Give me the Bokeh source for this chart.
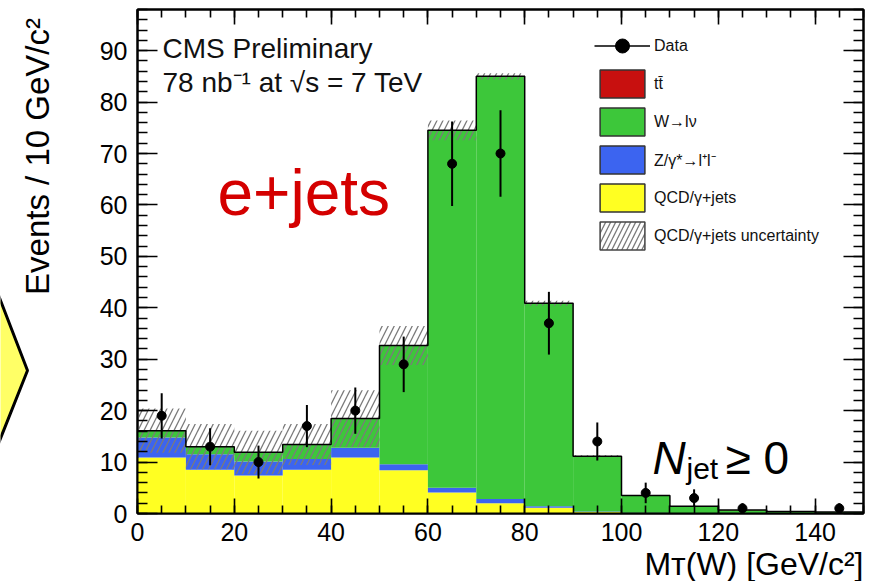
import numpy as np
from bokeh.plotting import figure
from bokeh.layouts import row
from bokeh.models import (Range1d, LinearAxis, Legend, LegendItem, Label, Title,
                          ColumnDataSource, SingleIntervalTicker, CustomJSTickFormatter)
from bokeh.embed import file_html
from bokeh.resources import INLINE

# ---------------- data ----------------
bin_lo = [0, 10, 20, 30, 40, 50, 60, 70, 80, 90, 100, 110, 120, 130, 140]
BIN_W = 10
qcd   = [10.9, 8.5, 7.4, 8.5, 10.9, 8.4, 4.1, 2.0, 1.1, 0.3, 0.1, 0.1, 0.05, 0.0, 0.0]
zll   = [3.9, 3.0, 2.7, 2.1, 1.9, 1.2, 0.9, 0.8, 0.3, 0.1, 0.05, 0.0, 0.0, 0.0, 0.0]
wlv   = [1.3, 1.5, 1.8, 2.8, 5.6, 23.0, 69.4, 82.1, 39.4, 10.7, 3.3, 1.3, 0.6, 0.4, 0.3]
ttbar = [0.0, 0.0, 0.0, 0.02, 0.05, 0.08, 0.1, 0.1, 0.08, 0.05, 0.04, 0.02, 0.02, 0.01, 0.01]
qcd_unc = [4.3, 4.4, 4.2, 4.0, 5.5, 3.8, 1.9, 0.6, 0.5, 0.2, 0.1, 0.05, 0.0, 0.0, 0.0]
data     = [19, 13, 10, 17, 20, 29, 68, 70, 37, 14, 4, 3, 1, 0, 1]
data_err = [4.4, 3.6, 3.2, 4.1, 4.5, 5.4, 8.2, 8.4, 6.1, 3.7, 2.0, 1.7, 1.0, 0.0, 1.0]

legend_labels = ["Data", "tt\u0304", "W\u2192l\u03bd",
                 "Z/\u03b3*\u2192l\u207al\u207b", "QCD/\u03b3+jets",
                 "QCD/\u03b3+jets uncertainty"]
x_title = "M\u1d1b(W) [GeV/c\u00b2]"
y_title = "Events / 10 GeV/c\u00b2"

# decorative slide arrow at the far left (outline in page pixels measured upward)
arrow_x = [-10, 27, -10]
arrow_y = [314, 218, 125]

FONT = "Liberation Sans"
C_YEL, C_BLU, C_GRN, C_RED = "#ffff22", "#3c64f0", "#3dc73a", "#c8100f"
SIDE_W, FIG_H = 55, 588
FRAME_TOP, FRAME_H = 9, 504
FRAME_BOT = FIG_H - FRAME_TOP - FRAME_H

# ---------------- derived stacking ----------------
lo = np.array(bin_lo, float)
hi = lo + BIN_W
mid = lo + BIN_W / 2
y_q = np.array(qcd)
y_z = y_q + np.array(zll)
y_w = y_z + np.array(wlv)
y_t = y_w + np.array(ttbar)
unc = np.array(qcd_unc)
d = np.array(data, float)
de = np.array(data_err)
m = d > 0

# ---------------- left side panel: arrow + y title ----------------
side = figure(frame_width=SIDE_W, frame_height=FRAME_H, output_backend="svg", toolbar_location=None,
              x_range=Range1d(0, SIDE_W), y_range=Range1d(FRAME_BOT, FIG_H - FRAME_TOP),
              x_axis_location=None, y_axis_location=None,
              min_border_left=0, min_border_right=0, min_border_top=FRAME_TOP,
              min_border_bottom=FRAME_BOT)
side.outline_line_color = None
side.xgrid.visible = False
side.ygrid.visible = False
side.patch(x=arrow_x, y=arrow_y, fill_color="#ffff66", line_color="black", line_width=3)
side.add_layout(Label(x=37, y=FIG_H - 156, text=y_title, angle=np.pi / 2,
                      text_font=FONT, text_font_size="33px", text_color="black",
                      text_align="center", text_baseline="middle"))

# ---------------- main plot ----------------
p = figure(frame_width=726, frame_height=FRAME_H, output_backend="svg", toolbar_location=None,
           x_range=Range1d(0, 150), y_range=Range1d(0, 98),
           min_border_left=137 - SIDE_W, min_border_top=FRAME_TOP, min_border_right=8,
           min_border_bottom=10)
p.background_fill_color = "white"
p.border_fill_color = "white"
p.outline_line_color = "black"
p.outline_line_width = 2
p.xgrid.visible = False
p.ygrid.visible = False

src = ColumnDataSource(dict(lo=lo, hi=hi, mid=mid, q=y_q, z=y_z, w=y_w, t=y_t,
                            ulo=y_t - unc, uhi=y_t + unc))
p.quad(left="lo", right="hi", bottom=0, top="q", source=src, fill_color=C_YEL, line_color=None)
p.quad(left="lo", right="hi", bottom="q", top="z", source=src, fill_color=C_BLU, line_color=None)
p.quad(left="lo", right="hi", bottom="z", top="w", source=src, fill_color=C_GRN, line_color=None)
p.quad(left="lo", right="hi", bottom="w", top="t", source=src, fill_color=C_RED, line_color=None)
p.quad(left="lo", right="hi", bottom="ulo", top="uhi", source=src, fill_color=None,
       line_color=None, hatch_pattern="/", hatch_color="#7a7a7a",
       hatch_weight=1.3, hatch_scale=12)
edges = np.append(lo, hi[-1])
p.step(x=edges, y=np.append(y_t, y_t[-1]), mode="after", line_color="black", line_width=1.5)

dsrc = ColumnDataSource(dict(x=mid[m], y=d[m], ylo=(d - de)[m], yhi=(d + de)[m]))
p.segment(x0="x", y0="ylo", x1="x", y1="yhi", source=dsrc, line_color="black", line_width=2)
p.scatter(x="x", y="y", source=dsrc, size=9, fill_color="black", line_color="black")

# legend proxies (hidden in the plot)
r_dline = p.line(x="x", y="y", source=dsrc, line_color="black", line_width=1.5, visible=False)
r_dpt = p.scatter(x="x", y="y", source=dsrc, size=8, fill_color="black", line_color="black", visible=False)
prox = []
for col in [C_RED, C_GRN, C_BLU, C_YEL]:
    prox.append(p.quad(left="lo", right="hi", bottom=0, top="q", source=src, fill_color=col,
                       line_color="#333333", line_width=1.5, visible=False))
prox_h = p.quad(left="lo", right="hi", bottom=0, top="q", source=src, fill_color=None,
                line_color="#444444", line_width=1.5, hatch_pattern="/", hatch_color="#7a7a7a",
                hatch_weight=1.3, hatch_scale=10, visible=False)

items = [LegendItem(label=legend_labels[0], renderers=[r_dline, r_dpt])]
for lab_, r in zip(legend_labels[1:5], prox):
    items.append(LegendItem(label=lab_, renderers=[r]))
items.append(LegendItem(label=legend_labels[5], renderers=[prox_h]))
leg = Legend(items=items, location=(457, 260), glyph_width=56, glyph_height=35, spacing=3,
             label_standoff=4, padding=0, margin=0, border_line_color=None,
             background_fill_alpha=0, inactive_fill_alpha=0,
             label_text_font=FONT, label_text_font_size="16px", label_text_color="#111111")
p.add_layout(leg)

# ---------------- axes ----------------
def style_axis(ax, major_in, minor_in, labels=True, standoff=9):
    ax.axis_line_width = 2
    ax.axis_line_color = "black"
    ax.major_tick_in = major_in
    ax.major_tick_out = 0
    ax.minor_tick_in = minor_in
    ax.minor_tick_out = 0
    ax.major_tick_line_width = 1.6
    ax.minor_tick_line_width = 1.6
    ax.major_tick_line_color = "black"
    ax.minor_tick_line_color = "black"
    if labels:
        ax.major_label_text_font = FONT
        ax.major_label_text_font_size = "25px"
        ax.major_label_text_color = "black"
        ax.major_label_standoff = standoff
    else:
        ax.formatter = CustomJSTickFormatter(code="return ''")
        ax.major_label_text_font_size = "1px"
        ax.major_label_standoff = 0
        ax.axis_label_standoff = 0

p.xaxis[0].ticker = SingleIntervalTicker(interval=20, num_minor_ticks=4)
p.yaxis[0].ticker = SingleIntervalTicker(interval=10, num_minor_ticks=5)
style_axis(p.xaxis[0], 15, 8, True, 9)
style_axis(p.yaxis[0], 20, 10, True, 10)

ax_top = LinearAxis(ticker=SingleIntervalTicker(interval=20, num_minor_ticks=4))
style_axis(ax_top, 15, 8, labels=False)
p.add_layout(ax_top, "above")
ax_right = LinearAxis(ticker=SingleIntervalTicker(interval=10, num_minor_ticks=5))
style_axis(ax_right, 20, 10, labels=False)
p.add_layout(ax_right, "right")

# x axis title, right aligned as in the reference
p.add_layout(Title(text=x_title, align="right", text_font=FONT, text_font_size="32px",
                   text_font_style="normal", text_color="black", standoff=0, offset=0), "below")

# ---------------- texts inside the frame ----------------
def lab(x, y, text, size, color="black", style="normal", align="left"):
    p.add_layout(Label(x=x, y=y, x_units="screen", y_units="screen", text=text,
                       text_font=FONT, text_font_size=size, text_color=color,
                       text_font_style=style, text_align=align, text_baseline="alphabetic"))

lab(25, 465, "CMS Preliminary", "28px", "#111111")
lab(25, 431, "78 nb\u207b\u00b9 at \u221as = 7 TeV", "28px", "#111111")
lab(80, 321, "e+jets", "64px", "#d40000")
lab(515, 56, "N", "46px", style="italic")
lab(549, 45, "jet", "30px")
lab(588, 56, "\u2265 0", "46px")

layout = row(side, p, spacing=0)
open("out.html", "w").write(file_html(layout, INLINE))
